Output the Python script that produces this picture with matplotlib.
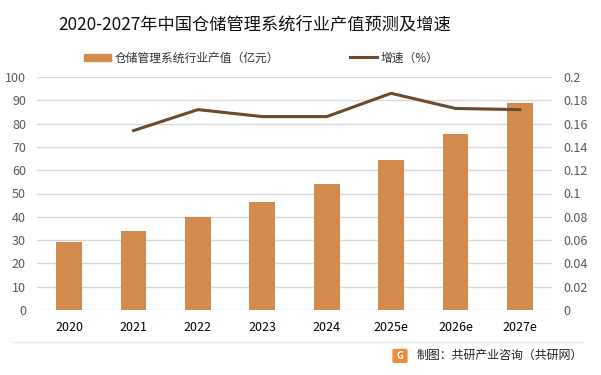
import numpy as np
import matplotlib.pyplot as plt
from matplotlib.lines import Line2D
from matplotlib.patches import Patch, FancyBboxPatch

plt.rcParams['font.family'] = ['Noto Sans CJK SC', 'DejaVu Sans']

## data
years = ['2020', '2021', '2022', '2023', '2024', '2025e', '2026e', '2027e']
output_value = [29.3, 33.9, 39.9, 46.4, 54.1, 64.4, 75.6, 88.9]   # 亿元
growth = [np.nan, 0.154, 0.172, 0.166, 0.166, 0.186, 0.173, 0.172]

bar_color = '#d38b4d'
line_color = '#6b4a2e'
tick_color = '#595959'

fig = plt.figure(figsize=(6.01, 3.75), dpi=100)
ax = fig.add_axes([0.0616, 0.1733, 0.857, 0.6214])
ax2 = ax.twinx()

x = np.arange(len(years))
ax.bar(x, output_value, width=0.4, color=bar_color, zorder=2)
ax2.plot(x, growth, color=line_color, linewidth=2.2, zorder=3)

ax.set_xlim(-0.5, len(years) - 0.5)
ax.set_ylim(0, 100)
ax.set_yticks(range(0, 101, 10))
ax2.set_ylim(0, 0.2)
ax2.set_yticks(np.round(np.arange(0, 0.201, 0.02), 2))
ax2.set_yticklabels(['0', '0.02', '0.04', '0.06', '0.08', '0.1', '0.12',
                     '0.14', '0.16', '0.18', '0.2'])
ax.set_xticks(x)
ax.set_xticklabels(years)

ax.grid(axis='y', color='#d9d9d9', linewidth=1, zorder=0)
for a in (ax, ax2):
    for s in a.spines.values():
        s.set_visible(False)
ax.tick_params(axis='x', length=0, labelsize=9, colors='#000000', pad=8)
ax.tick_params(axis='y', length=0, labelsize=9, colors=tick_color, pad=8)
ax2.tick_params(axis='y', length=0, labelsize=9, colors=tick_color, pad=8)

fig.text(0.424, 0.935, '2020-2027年中国仓储管理系统行业产值预测及增速',
         ha='center', va='center', fontsize=12.4, color='#111111')

# legend
handles = [Patch(color=bar_color), Line2D([], [], color=line_color, linewidth=2.2)]
fig.legend(handles[:1], ['仓储管理系统行业产值（亿元）'], loc='center left',
           bbox_to_anchor=(0.122, 0.845), frameon=False, fontsize=8.5,
           handlelength=2.3, handleheight=0.5, handletextpad=0.3,
           labelcolor='#333333')
fig.legend(handles[1:], ['增速（%）'], loc='center left',
           bbox_to_anchor=(0.565, 0.845), frameon=False, fontsize=8.5,
           handlelength=2.3, handletextpad=0.3, labelcolor='#333333')

# footer
fig.add_artist(Line2D([0.022, 0.97], [0.088, 0.088], color='#e6e6e6', linewidth=1))
logo = FancyBboxPatch((0.656, 0.036), 0.019, 0.03, boxstyle='round,pad=0.002',
                      transform=fig.transFigure, color='#f08a3c')
fig.add_artist(logo)
fig.text(0.6655, 0.051, 'G', ha='center', va='center', fontsize=7,
         color='white', fontweight='bold')
fig.text(0.693, 0.053, '制图：共研产业咨询（共研网）', ha='left', va='center',
         fontsize=8.6, color='#222222')

plt.savefig('out.png', dpi=100)
